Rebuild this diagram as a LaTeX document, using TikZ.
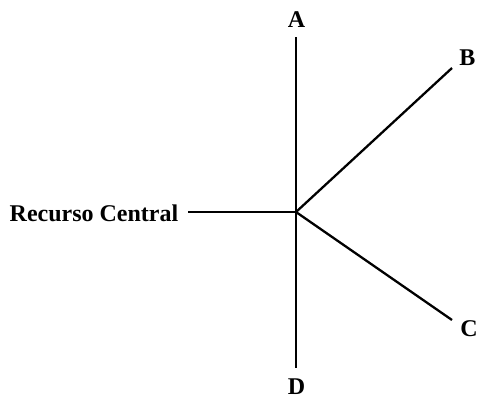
\documentclass[tikz,border=0pt]{standalone}
\usepackage{fontspec}
\setmainfont{Liberation Serif}
\begin{document}
\begin{tikzpicture}[x=1pt,y=-1pt,
  lbl/.style={font=\fontsize{24}{24}\selectfont\bfseries, inner sep=0pt},
  conn/.style={line width=2.3pt}]
\useasboundingbox (0,0) rectangle (477,400);
\coordinate (ctr) at (296,212);
\coordinate (ea) at (296,37);
\coordinate (eb) at (452,68);
\coordinate (ec) at (452,320);
\coordinate (ed) at (296,368);
\coordinate (er) at (188,212);
\node[lbl] (A) at (296.5,20) {A};
\node[lbl] (B) at (467.5,57.5) {B};
\node[lbl] (C) at (469,328.5) {C};
\node[lbl] (D) at (296.5,386.5) {D};
\node[lbl, anchor=east] (R) at (178.5,213) {Recurso Central};
\draw[conn] (ea) -- (ed);
\draw[conn] (er) -- (ctr);
\draw[conn] (ctr) -- (eb);
\draw[conn] (ctr) -- (ec);
\end{tikzpicture}
\end{document}
